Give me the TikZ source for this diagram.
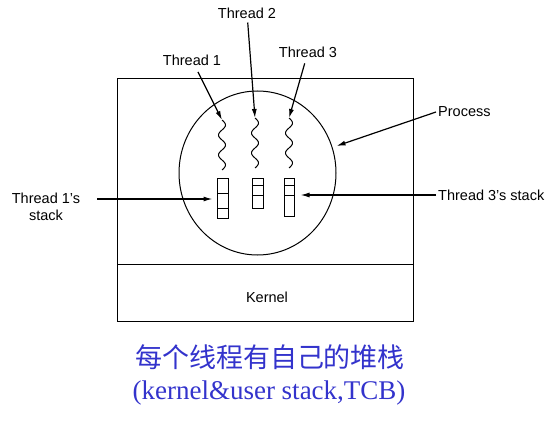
\documentclass[tikz,border=0pt]{standalone}
\usepackage{fontspec}
\setmainfont{Liberation Sans}
\newfontfamily\tnrfont{Liberation Serif}
\newfontfamily\cjkfont{Noto Sans CJK SC}
\usepackage{tikz}
\usetikzlibrary{shapes.geometric, arrows.meta, positioning, calc}

\definecolor{capblue}{RGB}{51,51,204}

\tikzset{
  lbl/.style={font=\fontsize{14.5}{17}\selectfont, inner sep=2pt},
  arr/.style={line width=1.2pt, -{Latex[length=9pt,width=5pt]}},
  stackbox/.style={draw, line width=1pt, rectangle, inner sep=0pt},
  wiggle/.style={line width=1pt, domain=0:50, samples=60, smooth}
}

\begin{document}
\begin{tikzpicture}[x=1pt, y=-1pt]
\useasboundingbox (0,0) rectangle (560,425);

% Process box and kernel
\draw[line width=1pt] (117,79) rectangle (413,321);
\draw[line width=1pt] (117,264) -- (413,264);
\node[lbl] (kernel) at (267,297) {Kernel};

% Process (circle)
\node[draw, line width=1pt, ellipse, minimum width=157pt, minimum height=164pt, inner sep=0pt] (proc) at (257.5,173) {};

% Threads
\coordinate (t1) at (222,120);
\coordinate (t2) at (255,118);
\coordinate (t3) at (289,118);
\foreach \t in {t1,t2,t3} {
    \draw[wiggle, shift={(\t)}] plot ({3.5*sin(\x*18)}, \x);
}

% Stacks
\node[stackbox, minimum width=11pt, minimum height=40pt] (stack1) at (222.5,199) {};
\node[stackbox, minimum width=11pt, minimum height=30pt] (stack2) at (257.5,194) {};
\node[stackbox, minimum width=10pt, minimum height=38pt] (stack3) at (289,198) {};
\foreach \y in {194,209} \draw[line width=1pt] (217,\y) -- (228,\y);
\foreach \y in {186,196} \draw[line width=1pt] (252,\y) -- (263,\y);
\foreach \y in {186,196} \draw[line width=1pt] (284,\y) -- (294,\y);

% Labels
\node[lbl] (lt1) at (192,60) {Thread 1};
\node[lbl] (lt2) at (247,13) {Thread 2};
\node[lbl] (lt3) at (308,52) {Thread 3};
\node[lbl, anchor=west] (lproc) at (436,112) {Process};
\node[lbl, anchor=west] (lt3s) at (436,195) {Thread 3's stack};
\node[lbl, align=center] (lt1s) at (46,207) {Thread 1's\\stack};

% Arrows
\draw[arr, shorten <=5pt] (lt1) -- (t1);
\draw[arr, shorten <=2pt] (lt2) -- (t2);
\draw[arr, shorten <=4pt] (lt3) -- (t3);
\draw[arr] (lproc.west) -- ($(proc.center)+(79,-27)$);
\draw[arr, shorten >=6pt] (lt3s.west) -- (stack3.east |- lt3s.west);
\draw[arr, shorten <=15pt, shorten >=4pt] (lt1s.east |- stack1.west) -- (stack1.west);

% Caption
\node[text=capblue, font=\cjkfont\fontsize{27}{32}\selectfont] (capcn) at (270,357) {每个线程有自己的堆栈};
\node[text=capblue, font=\tnrfont\fontsize{27}{32}\selectfont] (capen) at (269,393) {(kernel\&user stack,TCB)};
\end{tikzpicture}
\end{document}
